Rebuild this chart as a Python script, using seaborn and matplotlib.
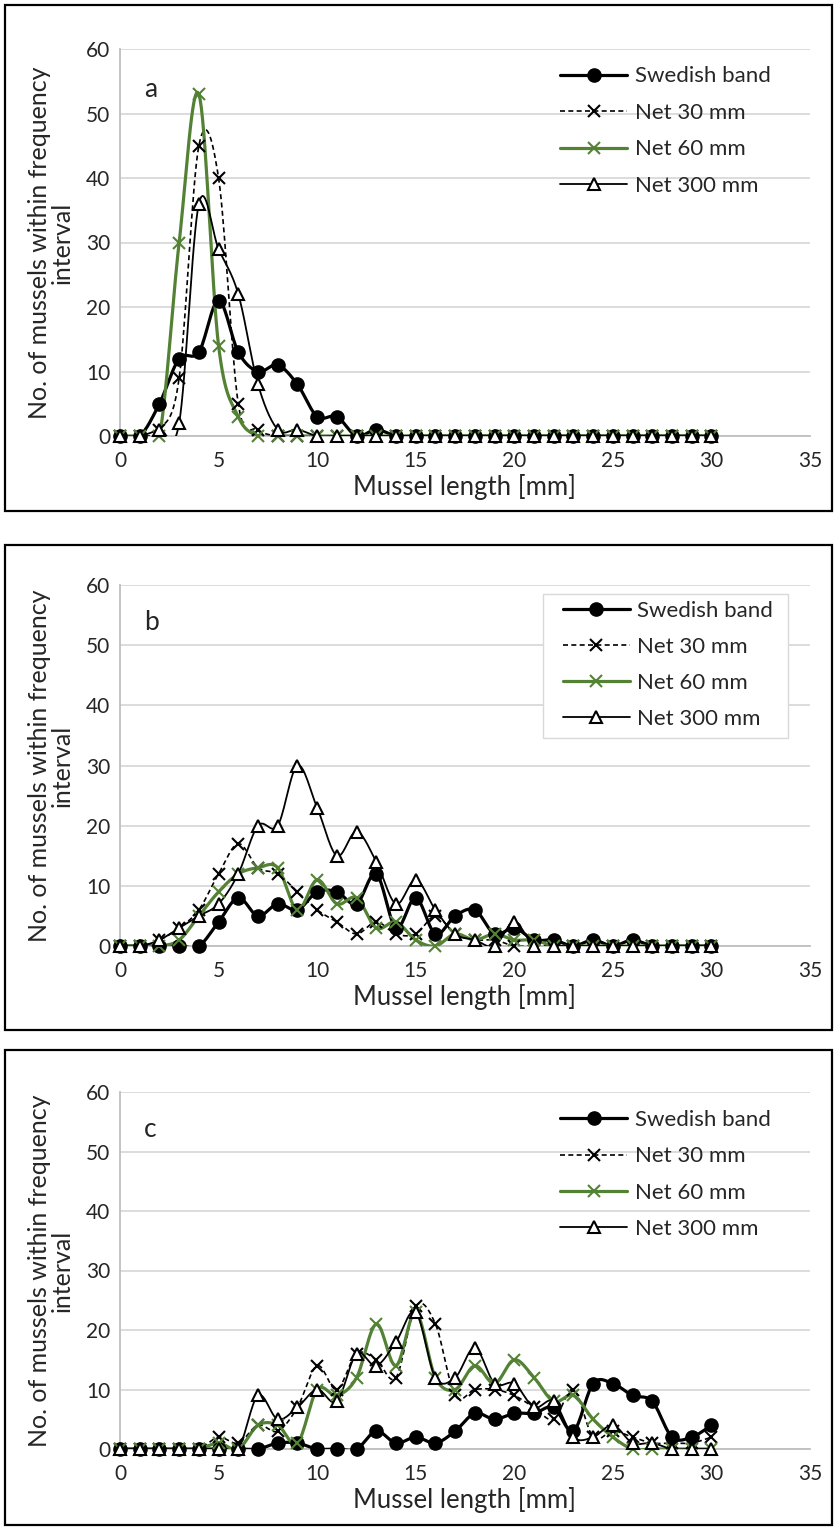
import numpy as np
import pandas as pd
import matplotlib
matplotlib.use("Agg")
import matplotlib.pyplot as plt
from matplotlib.lines import Line2D
from matplotlib.patches import Rectangle
import seaborn as sns

# mussel length classes [mm]
length = [0, 1, 2, 3, 4, 5, 6, 7, 8, 9, 10, 11, 12, 13, 14, 15,
          16, 17, 18, 19, 20, 21, 22, 23, 24, 25, 26, 27, 28, 29, 30]

series_names = ["Swedish band", "Net 30 mm", "Net 60 mm", "Net 300 mm"]

# panel a
a_swedish = [0, 0, 5, 12, 13, 21, 13, 10, 11, 8, 3, 3, 0, 1, 0, 0,
             0, 0, 0, 0, 0, 0, 0, 0, 0, 0, 0, 0, 0, 0, 0]
a_net30 = [0, 0, 1, 9, 45, 40, 5, 1, 0, 0, 0, 0, 0, 0, 0, 0,
           0, 0, 0, 0, 0, 0, 0, 0, 0, 0, 0, 0, 0, 0, 0]
a_net60 = [0, 0, 0, 30, 53, 14, 3, 0, 0, 0, 0, 0, 0, 0, 0, 0,
           0, 0, 0, 0, 0, 0, 0, 0, 0, 0, 0, 0, 0, 0, 0]
a_net300 = [0, 0, 1, 2, 36, 29, 22, 8, 1, 1, 0, 0, 0, 0, 0, 0,
            0, 0, 0, 0, 0, 0, 0, 0, 0, 0, 0, 0, 0, 0, 0]

# panel b
b_swedish = [0, 0, 0, 0, 0, 4, 8, 5, 7, 6, 9, 9, 7, 12, 3, 8,
             2, 5, 6, 2, 3, 1, 1, 0, 1, 0, 1, 0, 0, 0, 0]
b_net30 = [0, 0, 1, 3, 6, 12, 17, 13, 12, 9, 6, 4, 2, 4, 2, 2,
           5, 2, 1, 1, 0, 0, 0, 0, 0, 0, 0, 0, 0, 0, 0]
b_net60 = [0, 0, 0, 1, 5, 9, 12, 13, 13, 6, 11, 7, 8, 3, 4, 1,
           0, 2, 1, 2, 1, 1, 0, 0, 0, 0, 0, 0, 0, 0, 0]
b_net300 = [0, 0, 1, 3, 5, 7, 12, 20, 20, 30, 23, 15, 19, 14, 7, 11,
            6, 2, 1, 0, 4, 0, 0, 0, 0, 0, 0, 0, 0, 0, 0]

# panel c
c_swedish = [0, 0, 0, 0, 0, 0, 0, 0, 1, 1, 0, 0, 0, 3, 1, 2,
             1, 3, 6, 5, 6, 6, 7, 3, 11, 11, 9, 8, 2, 2, 4]
c_net30 = [0, 0, 0, 0, 0, 2, 1, 4, 3, 7, 14, 10, 16, 15, 12, 24,
           21, 9, 10, 10, 9, 7, 5, 10, 2, 3, 2, 1, 1, 1, 2]
c_net60 = [0, 0, 0, 0, 0, 1, 0, 4, 4, 1, 10, 9, 12, 21, 14, 23,
           12, 10, 14, 11, 15, 12, 8, 9, 5, 2, 0, 0, 0, 0, 0]
c_net300 = [0, 0, 0, 0, 0, 0, 0, 9, 5, 7, 10, 8, 16, 14, 18, 23,
            12, 12, 17, 11, 11, 7, 8, 2, 2, 4, 1, 1, 0, 0, 0]

panels = {
    "a": [a_swedish, a_net30, a_net60, a_net300],
    "b": [b_swedish, b_net30, b_net60, b_net300],
    "c": [c_swedish, c_net30, c_net60, c_net300],
}

GREEN = "#548235"
styles = {
    "Swedish band": dict(color="black", lw=2.3, ls="-", marker="o", ms=9.5,
                         mfc="black", mew=1.0),
    "Net 30 mm": dict(color="black", lw=1.2, ls=(0, (3, 2)), marker="x", ms=8,
                      mfc="black", mew=1.5),
    "Net 60 mm": dict(color=GREEN, lw=2.3, ls="-", marker="x", ms=8,
                      mfc=GREEN, mew=1.5),
    "Net 300 mm": dict(color="black", lw=1.3, ls="-", marker="^", ms=8.5,
                       mfc="white", mew=1.5),
}


def smooth(xs, ys, n=16):
    # Excel-like smoothed line (Catmull-Rom / Bezier through the points)
    p = np.column_stack([xs, ys]).astype(float)
    ext = np.vstack([p[0], p, p[-1]])
    t = np.linspace(0, 1, n, endpoint=False)[:, None]
    out = []
    for i in range(len(p) - 1):
        p0, p1, p2, p3 = ext[i], ext[i + 1], ext[i + 2], ext[i + 3]
        b1 = p1 + (p2 - p0) / 6
        b2 = p2 - (p3 - p1) / 6
        seg = ((1 - t) ** 3) * p1 + 3 * ((1 - t) ** 2) * t * b1 \
            + 3 * (1 - t) * t ** 2 * b2 + t ** 3 * p2
        out.append(seg)
    out.append(p[-1][None, :])
    out = np.vstack(out)
    return out[:, 0], out[:, 1]


sns.set_style("white")
plt.rcParams["font.family"] = ["Lato", "DejaVu Sans"]

W, H = 837, 1528
fig = plt.figure(figsize=(W / 100, H / 100), dpi=100)

# axes boxes in pixels: (left, top, right, bottom)
ax_px = {"a": (120, 49, 810, 436), "b": (120, 585, 810, 946), "c": (120, 1092, 810, 1449)}
frame_px = {"a": (5, 5, 832, 511), "b": (5, 545, 832, 1030), "c": (5, 1050, 832, 1525)}
legend_anchor = {"a": (0.638, 0.955), "b": (0.642, 0.957), "c": (0.638, 0.950)}

for key, vals in panels.items():
    l, t, r, b = ax_px[key]
    ax = fig.add_axes([l / W, 1 - b / H, (r - l) / W, (b - t) / H])

    fl, ft, fr, fb = frame_px[key]
    fig.patches.append(Rectangle((fl / W, 1 - fb / H), (fr - fl) / W, (fb - ft) / H,
                                 transform=fig.transFigure, fill=False,
                                 edgecolor="black", lw=1.6, zorder=0))

    for name, ys in zip(series_names, vals):
        st = styles[name]
        sx, sy = smooth(length, ys)
        sm = pd.DataFrame({"x": sx, "y": sy})
        sns.lineplot(data=sm, x="x", y="y", ax=ax, color=st["color"], lw=st["lw"],
                     linestyle=st["ls"], sort=False, estimator=None, zorder=3)
        pts = pd.DataFrame({"x": length, "y": ys})
        sns.lineplot(data=pts, x="x", y="y", ax=ax, color=st["color"], linestyle="none",
                     marker=st["marker"], markersize=st["ms"], markerfacecolor=st["mfc"],
                     markeredgecolor=st["color"], markeredgewidth=st["mew"],
                     sort=False, estimator=None, zorder=4, clip_on=False)

    ax.set_xlim(0, 35)
    ax.set_ylim(0, 60)
    ax.set_xticks(range(0, 36, 5))
    ax.set_yticks(range(0, 61, 10))
    ax.yaxis.grid(True, color="#d9d9d9", lw=1.3)
    ax.set_axisbelow(True)
    for s in ["top", "right"]:
        ax.spines[s].set_visible(False)
    for s in ["left", "bottom"]:
        ax.spines[s].set_color("#bfbfbf")
        ax.spines[s].set_linewidth(1.3)
        ax.spines[s].set_zorder(1)
    ax.tick_params(axis="both", length=0, labelsize=15, labelcolor="#262626")
    ax.tick_params(axis="y", pad=7)
    ax.tick_params(axis="x", pad=11)
    ax.set_xlabel("Mussel length [mm]", fontsize=18.5, labelpad=2)
    ax.set_ylabel("No. of mussels within frequency\ninterval", fontsize=18,
                  labelpad=9, linespacing=0.95)
    ax.text(0.035, 0.895, key, transform=ax.transAxes, fontsize=19, va="center")

    handles = [Line2D([], [], color=styles[n]["color"], lw=styles[n]["lw"],
                      ls=styles[n]["ls"], marker=styles[n]["marker"],
                      ms=styles[n]["ms"], mfc=styles[n]["mfc"],
                      mec=styles[n]["color"], mew=styles[n]["mew"])
               for n in series_names]
    if key == "b":
        # legend box of panel b (white with light grey edge)
        ax.add_patch(Rectangle((0.613, 0.576), 0.355, 0.399, transform=ax.transAxes,
                               facecolor="white", edgecolor="#d9d9d9", lw=1.0,
                               zorder=4.5))
    leg = ax.legend(handles, series_names, loc="upper left",
                    bbox_to_anchor=legend_anchor[key], frameon=False,
                    fontsize=16, handlelength=3.0, handletextpad=0.35,
                    labelspacing=0.74 if key != "b" else 0.72, borderpad=0.0,
                    borderaxespad=0)
    leg.set_zorder(5)

fig.savefig("out.png", dpi=100)
